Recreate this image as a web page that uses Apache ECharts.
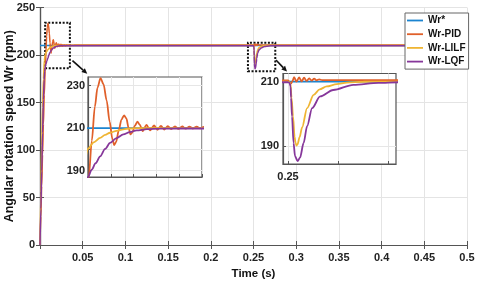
<!DOCTYPE html>
<html><head><meta charset="utf-8">
<script src="https://cdn.jsdelivr.net/npm/echarts@6/dist/echarts.min.js"></script>
<style>html,body{margin:0;padding:0;background:#fff}#c{width:480px;height:282px}</style>
</head><body><div id="c"></div><script>
// ---- data ----
const seriesNames = ['Wr*', 'Wr-PID', 'Wr-LILF', 'Wr-LQF'];
const wrRef = [[0, 210], [0.5, 210]];
const wrPID = [[0,0],[0.001,30],[0.002,62],[0.003,95],[0.004,127],[0.005,158],[0.0062,187],[0.007,204],[0.0078,220],[0.0085,229],[0.0093,233.5],[0.0101,230.5],[0.0109,223],[0.0117,213],[0.0124,205],[0.0129,202],[0.0134,203.5],[0.0141,209],[0.0148,214],[0.0155,216],[0.0161,214.5],[0.0167,210],[0.0172,207],[0.0177,208],[0.0183,211],[0.019,213],[0.0196,211.6],[0.0204,208.6],[0.0214,211.5],[0.0223,208.9],[0.0234,211.2],[0.0243,209.2],[0.0252,211],[0.0261,209.3],[0.027,210.9],[0.0279,209.5],[0.0289,210.8],[0.0298,209.6],[0.0308,210.8],[0.0317,209.7],[0.0327,210.7],[0.0336,209.8],[0.0346,210.7],[0.0355,209.9],[0.0365,210.6],[0.0374,210.0],[0.0384,210.6],[0.0393,210.1],[0.0403,210.5],[0.045,210.4],[0.25,210.4],[0.2503,209.8],[0.2506,209.4],[0.2509,210.2],[0.2512,211.4],[0.2517,210.0],[0.2522,211.3],[0.2527,210.1],[0.2532,211.2],[0.2537,210.2],[0.2542,211.0],[0.2547,210.3],[0.2552,210.9],[0.2557,210.4],[0.2562,210.7],[0.2568,210.45],[0.26,210.45],[0.5,210.4]];
const wrLILF = [[0,0],[0.001,55],[0.002,105],[0.003,145],[0.004,175],[0.005,194],[0.006,200.3],[0.0075,203.3],[0.0092,205.4],[0.0105,206.8],[0.0118,207.8],[0.0135,208.7],[0.0153,209.4],[0.017,209.8],[0.0188,210],[0.25,210],[0.2503,209.8],[0.2505,209.2],[0.2507,205],[0.251,199.2],[0.2513,193],[0.2515,191],[0.2517,190.2],[0.2519,190.6],[0.2523,192.8],[0.2528,195.8],[0.2538,201.8],[0.2551,205.9],[0.2563,207.6],[0.2577,208.5],[0.2597,209.2],[0.2617,209.7],[0.265,209.95],[0.27,210],[0.5,210]];
const wrLQF = [[0,0],[0.001,38],[0.002,78],[0.003,118],[0.004,153],[0.0048,174],[0.0055,183],[0.006,187],[0.007,190.5],[0.008,193.5],[0.0092,196.7],[0.0105,200.2],[0.0118,203],[0.0135,205.3],[0.0153,207],[0.017,208.1],[0.0188,208.9],[0.0215,209.5],[0.025,209.75],[0.03,209.8],[0.25,209.8],[0.2503,209.6],[0.2505,208.5],[0.2506,205],[0.2508,199.2],[0.2511,191],[0.2514,186.9],[0.2519,185.4],[0.2524,186.5],[0.2531,191],[0.2538,196.2],[0.2548,201.8],[0.2564,205.4],[0.259,207.4],[0.263,209],[0.268,209.6],[0.272,209.8],[0.5,209.8]];
const inset1YTicks = [190, 200, 210, 220, 230];
const inset1YLabels = [190, 210, 230];
const inset2XTicks = [0.25, 0.26, 0.27];
const inset2XLabels = [0.25];
const inset2YTicks = [190, 210];
const inset2YLabels = [190, 210];
const zoomBoxes = [[[0.006, 186], [0.035, 234]], [[0.2435, 183], [0.2755, 213]]];
const yAxisTitle = 'Angular rotation speed Wr (rpm)';
const xAxisTitle = 'Time (s)';

// ---- style ----
const colors = ['#1b84d0', '#e0602a', '#efb534', '#86379a'];
const FONT = '"Liberation Sans", Arial, sans-serif';
const AX = '#555';
const lbl = (o) => Object.assign({fontSize: 11, fontWeight: 'bold', color: '#222', fontFamily: FONT}, o);
const allData = [wrRef, wrPID, wrLILF, wrLQF];

const chart = echarts.init(document.getElementById('c'), null, {renderer: 'canvas'});

const series = [];
[[0, 0, 1.5, 2], [2, 2, 1.8, 8], [3, 3, 1.8, 8]].forEach(([xi, yi, w, z], gi) => {
  allData.forEach((d, i) => {
    const s = {
      type: 'line', name: seriesNames[i], data: d, xAxisIndex: xi, yAxisIndex: yi,
      symbol: 'none', smooth: 0.3, smoothMonotone: 'x', z: z + i * 0.01,
      lineStyle: {color: colors[i], width: w}, itemStyle: {color: colors[i]},
      animation: false, clip: true
    };
    if (gi === 0 && i === 0) {
      s.markArea = {
        silent: true, label: {show: false},
        itemStyle: {color: 'rgba(0,0,0,0)', borderColor: '#111', borderWidth: 2, borderType: [2, 1.6]},
        data: zoomBoxes.map(b => [{coord: b[0]}, {coord: b[1]}])
      };
    }
    series.push(s);
  });
});

const insetAxisCommon = {
  axisLine: {show: true, lineStyle: {color: AX, width: 1.2}},
  axisTick: {inside: true, length: 3, lineStyle: {color: AX}},
  splitLine: {show: true, lineStyle: {color: '#e6e6e6'}},
  z: 6
};

const option = {
  animation: false,
  backgroundColor: '#fff',
  grid: [
    {left: 40, right: 13, top: 7.5, bottom: 37, show: false, outerBoundsMode: 'none', containLabel: false},
    {left: 88, top: 77, width: 114, height: 100, show: true, backgroundColor: '#fff', borderColor: AX, borderWidth: 1.2, z: 5, outerBoundsMode: 'none', containLabel: false},
    {left: 283, top: 73.5, width: 113, height: 90.5, show: true, backgroundColor: '#fff', borderColor: AX, borderWidth: 1.2, z: 5, outerBoundsMode: 'none', containLabel: false}
  ],
  legend: {
    data: seriesNames.map(n => ({name: n, icon: 'rect'})), orient: 'vertical', left: 405, top: 13, z: 20,
    backgroundColor: '#fff', borderColor: '#666', borderWidth: 1,
    padding: [2, 3, 2, 2], itemGap: 2.7, itemWidth: 16, itemHeight: 1.8,
    textStyle: lbl({fontSize: 10, lineHeight: 11, color: '#111'})
  },
  xAxis: [
    {type: 'value', gridIndex: 0, min: 0, max: 0.5, interval: 0.05,
     axisLine: {show: true, lineStyle: {color: AX, width: 1.2}},
     axisTick: {inside: true, length: 4, lineStyle: {color: AX}},
     splitLine: {show: true, lineStyle: {color: '#e4e4e4'}},
     axisLabel: lbl({margin: 7, formatter: v => v === 0 ? '' : String(+v.toFixed(3))}),
     name: xAxisTitle, nameLocation: 'middle', nameGap: 20,
     nameTextStyle: lbl({fontSize: 11.5, color: '#111'})},
    {type: 'value', gridIndex: 0, position: 'top', min: 0, max: 0.5, interval: 0.05,
     axisLine: {show: true, lineStyle: {color: AX, width: 1.2}},
     axisTick: {inside: true, length: 4, lineStyle: {color: AX}},
     axisLabel: {show: false}, splitLine: {show: false}},
    Object.assign({type: 'value', gridIndex: 1, min: 0.006, max: 0.036, interval: 0.006,
     axisLabel: {show: false}}, insetAxisCommon),
    Object.assign({}, insetAxisCommon, {type: 'value', gridIndex: 2, min: 0.249, max: 0.2715,
     axisTick: {inside: true, length: 3, lineStyle: {color: AX}, customValues: inset2XTicks},
     axisLabel: lbl({margin: 7, customValues: inset2XLabels, formatter: v => String(+v.toFixed(3))})})
  ],
  yAxis: [
    {type: 'value', gridIndex: 0, min: 0, max: 250, interval: 50,
     axisLine: {show: true, lineStyle: {color: AX, width: 1.2}},
     axisTick: {inside: true, length: 4, lineStyle: {color: AX}},
     splitLine: {show: true, lineStyle: {color: '#e4e4e4'}},
     axisLabel: lbl({margin: 5})},
    {type: 'value', gridIndex: 0, position: 'right', min: 0, max: 250, interval: 50,
     axisLine: {show: true, lineStyle: {color: AX, width: 1.2}},
     axisTick: {inside: true, length: 4, lineStyle: {color: AX}},
     axisLabel: {show: false}, splitLine: {show: false}},
    Object.assign({}, insetAxisCommon, {type: 'value', gridIndex: 1, min: 187, max: 234,
     axisTick: {inside: true, length: 3, lineStyle: {color: AX}, customValues: inset1YTicks},
     axisLabel: lbl({margin: 3, customValues: inset1YLabels})}),
    Object.assign({}, insetAxisCommon, {type: 'value', gridIndex: 2, min: 184.5, max: 212.5,
     axisTick: {inside: true, length: 3, lineStyle: {color: AX}, customValues: inset2YTicks},
     axisLabel: lbl({margin: 4, customValues: inset2YLabels})})
  ],
  series: series
};
chart.setOption(option);

function arrow(p0, p1) {
  const dx = p1[0] - p0[0], dy = p1[1] - p0[1], L = Math.hypot(dx, dy), ux = dx / L, uy = dy / L;
  const hl = 5.5, hw = 2.6, bx = p1[0] - ux * hl, by = p1[1] - uy * hl;
  return [
    {type: 'line', z: 30, shape: {x1: p0[0], y1: p0[1], x2: bx, y2: by}, style: {stroke: '#111', lineWidth: 1.6}},
    {type: 'polygon', z: 30, shape: {points: [[p1[0], p1[1]], [bx - uy * hw, by + ux * hw], [bx + uy * hw, by - ux * hw]]}, style: {fill: '#111'}}
  ];
}
const a1s = chart.convertToPixel({xAxisIndex: 0, yAxisIndex: 0}, [0.038, 194]);
const a1e = chart.convertToPixel({xAxisIndex: 2, yAxisIndex: 2}, [0.0058, 235.5]);
const a2s = chart.convertToPixel({xAxisIndex: 0, yAxisIndex: 0}, [0.2763, 194.7]);
const a2e = chart.convertToPixel({xAxisIndex: 3, yAxisIndex: 3}, [0.2498, 213.1]);
const yMid = chart.convertToPixel({yAxisIndex: 0}, 125);
const yTitle = {
  type: 'text', x: 10, y: yMid, rotation: Math.PI / 2, z: 30,
  style: {text: yAxisTitle, align: 'center', verticalAlign: 'middle', fill: '#111',
          font: 'bold 12.5px ' + FONT}
};
chart.setOption({graphic: arrow(a1s, a1e).concat(arrow(a2s, a2e), [yTitle])});
</script></body></html>
